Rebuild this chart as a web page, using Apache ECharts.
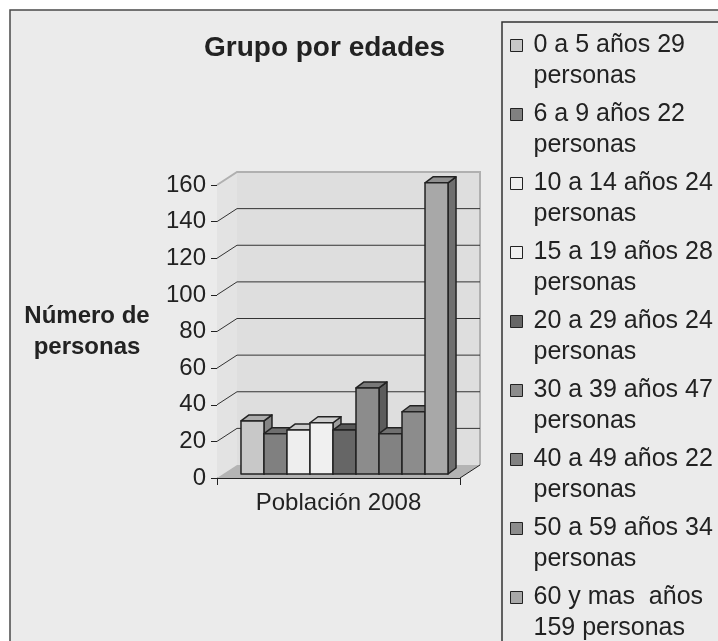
<!DOCTYPE html>
<html>
<head>
<meta charset="utf-8">
<script src="https://cdn.jsdelivr.net/npm/echarts@6/dist/echarts.min.js"></script>
<style>
  html, body { margin: 0; padding: 0; background: #fff; }
  #chart { width: 718px; height: 641px; }
</style>
</head>
<body>
<div id="chart"></div>
<script>
// datos
var categories = ['Población 2008'];
var ageGroups = ['0 a 5 años', '6 a 9 años', '10 a 14 años', '15 a 19 años', '20 a 29 años',
                 '30 a 39 años', '40 a 49 años', '50 a 59 años', '60 y mas  años'];
var people = [29, 22, 24, 28, 24, 47, 22, 34, 159];
var yTicks = [0, 20, 40, 60, 80, 100, 120, 140, 160];
var barColors = ['#c8c8c8', '#808080', '#eeeeee', '#f0f0f0', '#666666',
                 '#8c8c8c', '#828282', '#8c8c8c', '#a8a8a8'];

var FONT = "'Liberation Sans', Arial, sans-serif";
var LEGEND_SIZE = 25;
var WALL = [20, -13];   // profundidad del fondo
var FACE = [6, -4];     // plano frontal de las barras
var DEPTH = [8, -6];    // profundidad de cada barra

function shade(hex, k) {
  var n = parseInt(hex.slice(1), 16);
  var r = Math.round(((n >> 16) & 255) * k);
  var g = Math.round(((n >> 8) & 255) * k);
  var b = Math.round((n & 255) * k);
  return 'rgb(' + r + ',' + g + ',' + b + ')';
}

// corta el texto por palabras sin dejar espacio al inicio de la linea
var measureCtx = document.createElement('canvas').getContext('2d');
function wrapWords(text, maxW) {
  measureCtx.font = LEGEND_SIZE + 'px ' + FONT;
  var words = text.split(' ');
  var lines = [];
  var cur = words[0];
  for (var k = 1; k < words.length; k++) {
    var trial = cur + ' ' + words[k];
    if (words[k] && measureCtx.measureText(trial).width > maxW) {
      lines.push(cur);
      cur = words[k];
    } else {
      cur = trial;
    }
  }
  lines.push(cur);
  return lines.join('\n');
}

function bandInfo(api) {
  var o = api.coord([0, 0]);
  var band = api.size([1, 0])[0];
  return { x0: o[0] - band / 2, x1: o[0] + band / 2, y0: o[1], band: band };
}

function renderWalls(params, api) {
  var b = bandInfo(api);
  var y1 = api.coord([0, yTicks[yTicks.length - 1]])[1];
  var x0 = b.x0, x1 = b.x1, y0 = b.y0;
  return {
    type: 'group',
    children: [
      { type: 'polygon', shape: { points: [[x0, y0], [x0, y1], [x0 + WALL[0], y1 + WALL[1]], [x0 + WALL[0], y0 + WALL[1]]] },
        style: { fill: '#e3e3e3' } },
      { type: 'rect', shape: { x: x0 + WALL[0], y: y1 + WALL[1], width: b.band, height: y0 - y1 },
        style: { fill: '#dedede' } },
      { type: 'polygon', shape: { points: [[x0, y0], [x1, y0], [x1 + WALL[0], y0 + WALL[1]], [x0 + WALL[0], y0 + WALL[1]]] },
        style: { fill: '#b4b4b4' } },
      { type: 'polyline', shape: { points: [[x0, y1], [x0 + WALL[0], y1 + WALL[1]], [x1 + WALL[0], y1 + WALL[1]], [x1 + WALL[0], y0 + WALL[1]]] },
        style: { stroke: '#b0b0b0', lineWidth: 2, fill: null } },
      { type: 'line', shape: { x1: x1, y1: y0, x2: x1 + WALL[0], y2: y0 + WALL[1] },
        style: { stroke: '#222', lineWidth: 1 } }
    ]
  };
}

function renderGridLine(params, api) {
  var b = bandInfo(api);
  var y = api.coord([0, api.value(1)])[1];
  return {
    type: 'polyline',
    shape: { points: [[b.x0, y], [b.x0 + WALL[0], y + WALL[1]], [b.x1 + WALL[0], y + WALL[1]]] },
    style: { stroke: '#333', lineWidth: 1, fill: null }
  };
}

function renderBar(params, api) {
  var i = api.value(2);
  var b = bandInfo(api);
  var n = ageGroups.length;
  var bw = b.band * 0.852 / n;
  var x = b.x0 + (b.band - bw * n) / 2 + i * bw + FACE[0];
  var yb = b.y0 + FACE[1];
  var yt = api.coord([0, api.value(1)])[1] + FACE[1];
  var c = barColors[i];
  var xr = x + bw;
  var line = { stroke: '#222', lineWidth: 1.5, lineJoin: 'round' };
  return {
    type: 'group',
    children: [
      { type: 'polygon', shape: { points: [[xr, yt], [xr + DEPTH[0], yt + DEPTH[1]], [xr + DEPTH[0], yb + DEPTH[1]], [xr, yb]] },
        style: Object.assign({ fill: shade(c, 0.66) }, line) },
      { type: 'polygon', shape: { points: [[x, yt], [xr, yt], [xr + DEPTH[0], yt + DEPTH[1]], [x + DEPTH[0], yt + DEPTH[1]]] },
        style: Object.assign({ fill: shade(c, 0.86) }, line) },
      { type: 'rect', shape: { x: x, y: yt, width: bw, height: yb - yt },
        style: Object.assign({ fill: c }, line) }
    ]
  };
}

var series = [
  { name: 'walls', type: 'custom', renderItem: renderWalls, data: [[0, 0]], z: 1, silent: true },
  { name: 'grid', type: 'custom', renderItem: renderGridLine,
    data: yTicks.slice(1, -1).map(function (v) { return [0, v]; }), z: 1, silent: true }
];
ageGroups.forEach(function (g, i) {
  series.push({
    name: g,
    type: 'custom',
    renderItem: renderBar,
    itemStyle: { color: barColors[i] },
    data: [[0, people[i], i]],
    z: 3
  });
});

var chart = echarts.init(document.getElementById('chart'));
chart.setOption({
  animation: false,
  backgroundColor: '#ffffff',
  textStyle: { fontFamily: FONT },
  graphic: [
    { type: 'rect', z: -100, shape: { x: 10, y: 10, width: 800, height: 800 },
      style: { fill: '#ebebeb', stroke: '#4a4a4a', lineWidth: 1.5 } },
    { type: 'rect', z: -99, shape: { x: 502, y: 22, width: 400, height: 800 },
      style: { fill: 'none', stroke: '#333', lineWidth: 1.5 } }
  ],
  title: {
    text: 'Grupo por edades',
    left: 204,
    top: 34,
    padding: 0,
    textStyle: { fontFamily: FONT, fontSize: 28, fontWeight: 'bold', color: '#222' }
  },
  legend: {
    data: ageGroups,
    orient: 'vertical',
    left: 510,
    top: -1,
    height: 1200,
    padding: 0,
    itemWidth: 12,
    itemHeight: 12,
    itemGap: -24,
    icon: 'rect',
    selectedMode: false,
    itemStyle: { borderColor: '#222', borderWidth: 1 },
    // linea vacia delante para que el icono quede a la altura de la primera linea
    formatter: function (name) {
      return '\n' + wrapWords(name + ' ' + people[ageGroups.indexOf(name)] + ' personas', 186);
    },
    textStyle: {
      fontFamily: FONT, fontSize: LEGEND_SIZE, lineHeight: 31, color: '#222',
      padding: [0, 0, 0, 6]
    }
  },
  grid: { left: 217, top: 185, width: 243, bottom: 163, containLabel: false },
  xAxis: {
    type: 'category',
    data: categories,
    boundaryGap: true,
    axisLine: { show: true, lineStyle: { color: '#222', width: 1 } },
    axisTick: { show: true, length: 7, lineStyle: { color: '#222' } },
    axisLabel: { margin: 13, fontFamily: FONT, fontSize: 24, color: '#222' },
    splitLine: { show: false }
  },
  yAxis: {
    type: 'value',
    min: yTicks[0],
    max: yTicks[yTicks.length - 1],
    interval: 20,
    name: 'Número de\npersonas',
    nameLocation: 'middle',
    nameRotate: 0,
    nameGap: 130,
    nameTextStyle: { fontFamily: FONT, fontSize: 24, fontWeight: 'bold', color: '#222',
                     align: 'center', lineHeight: 31, padding: [12, 0, 0, 0] },
    axisLine: { show: true, lineStyle: { color: '#222', width: 1 } },
    axisTick: { show: true, length: 6, lineStyle: { color: '#222' } },
    axisLabel: { margin: 11, fontFamily: FONT, fontSize: 24, color: '#222' },
    splitLine: { show: false }
  },
  series: series
});
</script>
</body>
</html>
